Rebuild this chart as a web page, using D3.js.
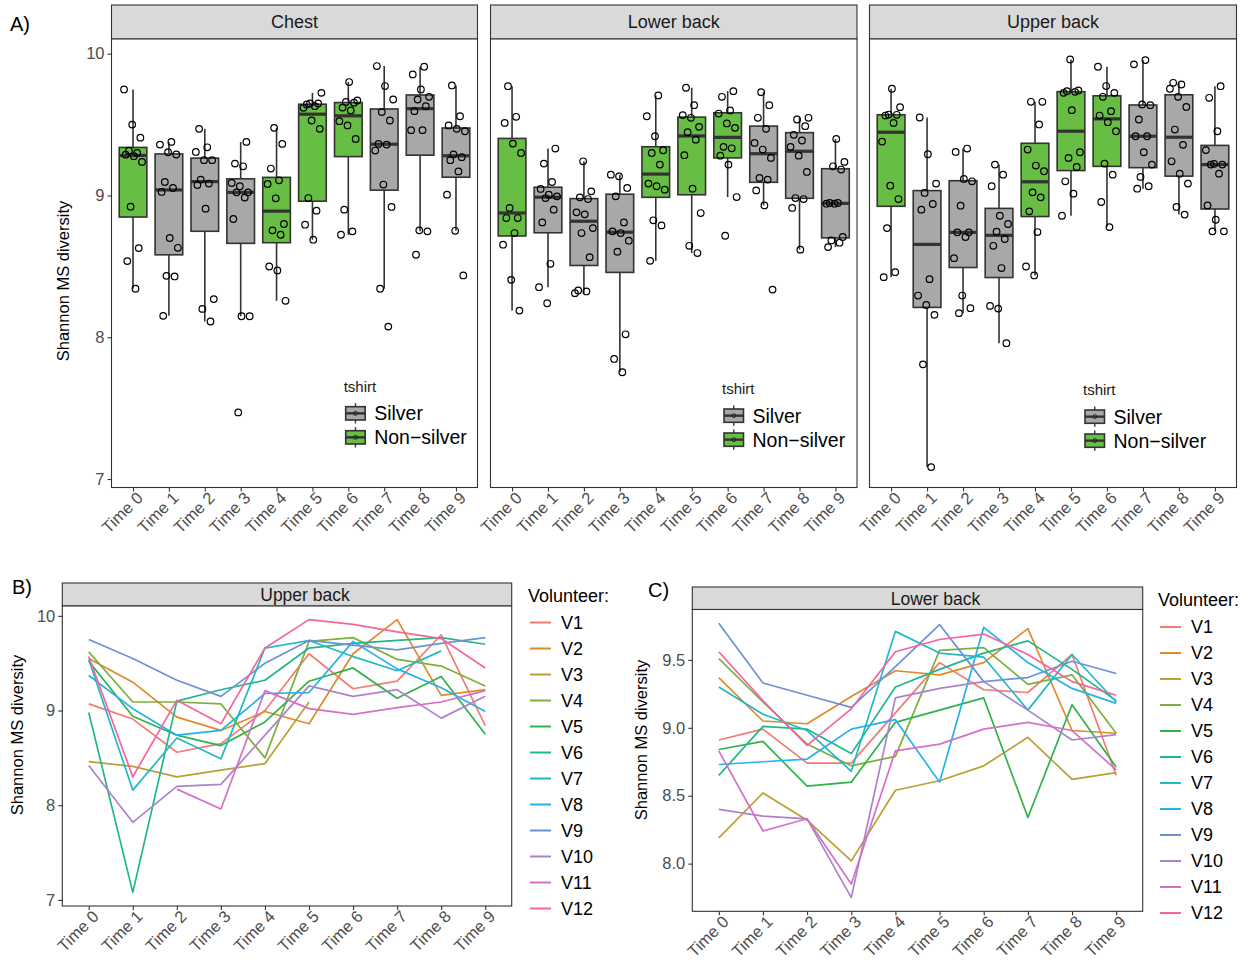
<!DOCTYPE html>
<html><head><meta charset="utf-8">
<script src="https://cdn.jsdelivr.net/npm/d3@7"></script>
<style>body{margin:0;background:#fff} svg{display:block} text{font-family:"Liberation Sans",Arial,Helvetica,sans-serif}</style>
</head><body><svg id="c" width="1252" height="979"></svg>
<script>
// ---------------- DATA ----------------
const times = ["Time 0","Time 1","Time 2","Time 3","Time 4","Time 5","Time 6","Time 7","Time 8","Time 9"];
const tshirt = ["Non-silver","Silver","Silver","Silver","Non-silver","Non-silver","Non-silver","Silver","Silver","Silver"];
const tshirtLevels = ["Silver","Non-silver"];
const tshirtLabels = ["Silver","Non\u2212silver"];
const sites = ["Chest","Lower back","Upper back"];

// Panel A: Shannon diversity of the 12 samples per time point
const chestValues = [
  [9.748,9.500,9.408,9.316,9.300,9.288,9.277,9.237,8.921,8.629,8.537,8.342],
  [9.378,9.359,9.305,9.289,9.095,9.053,9.025,8.700,8.631,8.433,8.429,8.151],
  [9.470,9.340,9.307,9.249,9.249,9.112,9.084,9.074,8.907,8.269,8.200,8.111],
  [9.378,9.225,9.206,9.088,9.065,9.022,9.022,8.985,8.834,8.148,8.148,7.470],
  [9.477,9.364,9.190,9.107,9.081,8.980,8.799,8.754,8.723,8.499,8.471,8.257],
  [9.724,9.649,9.649,9.642,9.630,9.618,9.529,9.470,8.982,8.893,8.794,8.688],
  [9.800,9.670,9.660,9.654,9.620,9.600,9.524,9.494,9.399,8.900,8.747,8.723],
  [9.913,9.772,9.677,9.588,9.529,9.364,9.359,9.317,9.077,8.919,8.342,8.075],
  [9.908,9.854,9.748,9.696,9.677,9.630,9.595,9.461,9.461,8.754,8.747,8.582],
  [9.776,9.559,9.494,9.470,9.453,9.290,9.270,9.249,9.170,9.006,8.751,8.436]
];
const lowerBackValues = [
  [9.771,9.555,9.512,9.366,9.300,8.912,8.841,8.841,8.735,8.653,8.405,8.188],
  [9.331,9.225,9.095,9.046,9.006,8.994,8.982,8.900,8.810,8.518,8.353,8.240],
  [9.241,9.029,8.987,8.975,8.881,8.867,8.770,8.735,8.565,8.330,8.323,8.311],
  [9.147,9.135,9.053,8.994,8.810,8.747,8.735,8.681,8.603,8.021,7.847,7.753],
  [9.706,9.559,9.418,9.319,9.300,9.218,9.084,9.065,9.041,8.825,8.789,8.539],
  [9.760,9.637,9.567,9.548,9.484,9.446,9.394,9.284,9.048,8.876,8.645,8.594],
  [9.736,9.696,9.600,9.578,9.508,9.477,9.343,9.333,9.281,9.218,8.989,8.716],
  [9.729,9.637,9.548,9.470,9.371,9.324,9.265,9.124,9.112,9.036,8.930,8.336],
  [9.548,9.536,9.489,9.428,9.388,9.343,9.281,9.166,8.982,8.975,8.912,8.618],
  [9.399,9.237,9.206,9.183,8.947,8.947,8.942,8.942,8.707,8.683,8.667,8.636]
];
const upperBackValues = [
  [9.753,9.623,9.571,9.569,9.564,9.512,9.380,9.069,8.975,8.770,8.459,8.424],
  [9.550,9.291,9.084,9.018,8.940,8.900,8.410,8.294,8.228,8.158,7.809,7.084],
  [9.331,9.307,9.117,9.100,8.928,8.740,8.740,8.707,8.558,8.294,8.205,8.170],
  [9.218,9.147,9.065,8.857,8.799,8.745,8.693,8.645,8.488,8.221,8.202,7.958],
  [9.661,9.661,9.501,9.324,9.211,9.171,9.022,8.987,8.888,8.742,8.499,8.436],
  [9.960,9.741,9.736,9.731,9.724,9.602,9.305,9.265,9.201,9.100,9.013,8.857],
  [9.908,9.772,9.724,9.696,9.595,9.564,9.517,9.453,9.225,9.147,8.954,8.777],
  [9.955,9.925,9.642,9.637,9.536,9.418,9.418,9.305,9.218,9.131,9.065,9.048],
  [9.795,9.783,9.753,9.696,9.625,9.465,9.357,9.241,9.154,9.084,8.919,8.865],
  [9.771,9.689,9.453,9.320,9.223,9.218,9.218,9.154,8.930,8.829,8.747,8.747]
];

// Panels B and C: per-volunteer trajectories (null = missing sample)
const volunteers = ["V1","V2","V3","V4","V5","V6","V7","V8","V9","V10","V11","V12"];
const upperBackSeries = [
  [9.07,8.91,8.56,8.65,9.00,9.60,9.23,9.31,9.80,8.84],
  [9.55,9.30,8.93,8.79,8.99,8.86,9.60,9.96,9.16,9.22],
  [8.46,8.41,8.30,8.37,8.44,9.09,null,null,null,null],
  [9.62,9.09,9.09,9.07,8.50,9.73,9.77,9.54,9.47,9.26],
  [9.52,8.94,8.74,8.63,8.88,9.31,9.45,9.13,9.36,8.75],
  [8.98,7.08,9.10,9.22,9.32,9.66,9.71,9.74,9.77,9.70],
  [9.54,8.16,8.71,8.49,9.66,9.74,9.57,9.42,9.63,null],
  [9.37,9.02,8.74,8.79,9.18,9.19,9.73,9.44,9.24,8.99],
  [9.75,9.55,9.32,9.15,9.50,9.74,9.69,9.64,9.71,9.77],
  [8.42,7.82,8.20,8.22,8.74,9.26,9.15,9.22,8.92,9.15],
  [null,null,8.17,7.96,9.21,9.02,8.96,9.03,9.09,9.21],
  [9.57,8.30,9.11,8.86,9.66,9.96,9.91,9.83,9.76,9.45]
];
const lowerBackSeries = [
  [8.91,8.99,8.74,8.74,9.11,9.48,9.28,9.26,9.54,8.65],
  [9.37,9.05,9.03,9.23,9.42,9.39,9.48,9.73,8.98,8.96],
  [8.19,8.52,8.32,8.02,8.54,8.61,8.72,8.93,8.62,8.67],
  [9.51,9.19,8.88,8.72,8.79,9.57,9.59,9.32,9.39,8.96],
  [8.84,8.90,8.57,8.60,9.04,9.13,9.22,8.34,9.17,8.71],
  [8.65,9.01,8.99,8.81,9.30,9.43,9.55,9.64,9.43,9.20],
  [9.30,9.10,8.98,8.68,9.71,9.55,9.52,9.13,9.54,9.19],
  [8.73,8.75,8.77,8.99,9.06,8.60,9.74,9.48,9.29,9.18],
  [9.77,9.33,9.24,9.15,9.45,9.76,9.34,9.37,9.49,9.40],
  [8.40,8.35,8.33,7.75,9.22,9.29,9.34,9.13,8.91,8.95],
  [8.83,8.24,8.33,7.85,8.83,8.88,8.99,9.04,8.98,8.69],
  [9.56,9.20,8.87,9.14,9.56,9.65,9.69,9.54,9.34,9.24]
];

const yTicksA = [7,8,9,10];
const yTicksB = [7,8,9,10];
const yTicksC = [8.0,8.5,9.0,9.5];

// ---------------- STYLE ----------------
const tshirtColor = d3.scaleOrdinal().domain(tshirtLevels).range(["#A8A8A8","#68BD45"]);
const volColor = d3.scaleOrdinal().domain(volunteers).range(
  ["#F37B72","#E08A2C","#B9A034","#7DAF3C","#2FB249","#20B78A","#22B9C2","#25B2EA","#6B92D8","#AD82CD","#D66FC8","#F4659F"]);
const DARK = "#333333", TICKTXT = "#4D4D4D";

const svg = d3.select("#c");
svg.append("rect").attr("width",1252).attr("height",979).attr("fill","#fff");

function expand(vals){ const e=d3.extent(vals.filter(v=>v!=null)); const p=(e[1]-e[0])*0.05; return [e[0]-p,e[1]+p]; }

function styleAxis(g, fs){
  g.select(".domain").remove();
  g.selectAll(".tick line").attr("stroke",DARK).attr("stroke-width",1.1);
  g.selectAll(".tick text").attr("fill",TICKTXT).style("font-size",fs+"px");
}
function rotateX(g, fs){
  g.selectAll(".tick text")
    .attr("text-anchor","end").attr("x",0).attr("y",0).attr("dy","0.72em")
    .attr("transform","translate(2,3) rotate(-45)")
    .style("font-size",fs+"px");
}

// ---------------- PANEL A ----------------
svg.append("text").attr("x",10).attr("y",31).style("font-size","20px").text("A)");
const panelsA = [
  {site:"Chest", vals:chestValues, x0:111.5, x1:477.5, lx:345.7, ly:391.7},
  {site:"Lower back", vals:lowerBackValues, x0:490.5, x1:857, lx:724, ly:394},
  {site:"Upper back", vals:upperBackValues, x0:869.5, x1:1236.5, lx:1085, ly:395}
];
const topA = 39, botA = 487.5, stripTopA = 5;
const yA = d3.scaleLinear().domain(expand(panelsA.flatMap(p=>p.vals.flat()))).range([botA, topA]);

panelsA.forEach((p, pi) => {
  const g = svg.append("g");
  const x = d3.scalePoint().domain(times).range([p.x0, p.x1]).padding(0.6);
  const step = x.step(), bw = step*0.77;
  // strip
  g.append("rect").attr("x",p.x0).attr("y",stripTopA).attr("width",p.x1-p.x0).attr("height",topA-stripTopA)
    .attr("fill","#D9D9D9").attr("stroke",DARK).attr("stroke-width",1.1);
  g.append("text").attr("x",(p.x0+p.x1)/2).attr("y",(stripTopA+topA)/2).attr("dy","0.35em")
    .attr("text-anchor","middle").style("font-size","18px").attr("fill","#1A1A1A").text(p.site);
  g.append("rect").attr("x",p.x0).attr("y",topA).attr("width",p.x1-p.x0).attr("height",botA-topA)
    .attr("fill","#fff").attr("stroke",DARK).attr("stroke-width",1.1);

  // boxes computed from data
  p.vals.forEach((arr, i) => {
    const s = arr.slice().sort(d3.ascending);
    const q1 = d3.quantile(s,0.25), med = d3.quantile(s,0.5), q3 = d3.quantile(s,0.75);
    const iqr = q3-q1;
    const lo = d3.min(s.filter(v=>v>=q1-1.5*iqr)), hi = d3.max(s.filter(v=>v<=q3+1.5*iqr));
    const cx = x(times[i]);
    const bg = g.append("g");
    bg.append("line").attr("x1",cx).attr("x2",cx).attr("y1",yA(hi)).attr("y2",yA(q3)).attr("stroke",DARK).attr("stroke-width",1.6);
    bg.append("line").attr("x1",cx).attr("x2",cx).attr("y1",yA(q1)).attr("y2",yA(lo)).attr("stroke",DARK).attr("stroke-width",1.6);
    bg.append("rect").attr("x",cx-bw/2).attr("y",yA(q3)).attr("width",bw).attr("height",yA(q1)-yA(q3))
      .attr("fill",tshirtColor(tshirt[i])).attr("stroke",DARK).attr("stroke-width",1.6);
    bg.append("line").attr("x1",cx-bw/2).attr("x2",cx+bw/2).attr("y1",yA(med)).attr("y2",yA(med)).attr("stroke",DARK).attr("stroke-width",3.2);
  });
  // jittered points
  p.vals.forEach((arr, i) => {
    const cx = x(times[i]);
    arr.forEach((v, j) => {
      const off = (((j*5 + i*7 + pi*3) % 12)/11 - 0.5) * 0.5 * step;
      g.append("circle").attr("cx",cx+off).attr("cy",yA(v)).attr("r",3.3)
        .attr("fill","none").attr("stroke","#000").attr("stroke-width",1.2);
    });
  });
  // x axis
  const gx = g.append("g").attr("transform",`translate(0,${botA})`).call(d3.axisBottom(x).tickSize(4).tickPadding(2));
  styleAxis(gx, 16.5); rotateX(gx, 16.5);
  // legend
  const lg = g.append("g");
  lg.append("text").attr("x",p.lx-2).attr("y",p.ly).style("font-size","15px").attr("fill","#1A1A1A").text("tshirt");
  tshirtLevels.forEach((lev, k) => {
    const ky = p.ly + 15 + k*24, kw = 19.5, kh = 13.3, kx = p.lx;
    lg.append("line").attr("x1",kx+kw/2).attr("x2",kx+kw/2).attr("y1",ky-3.5).attr("y2",ky+kh+3.5).attr("stroke",DARK).attr("stroke-width",1.4);
    lg.append("rect").attr("x",kx).attr("y",ky).attr("width",kw).attr("height",kh)
      .attr("fill",tshirtColor(lev)).attr("stroke",DARK).attr("stroke-width",1.6);
    lg.append("line").attr("x1",kx).attr("x2",kx+kw).attr("y1",ky+kh/2).attr("y2",ky+kh/2).attr("stroke",DARK).attr("stroke-width",2.4);
    lg.append("circle").attr("cx",kx+kw/2).attr("cy",ky+kh/2).attr("r",2).attr("fill","none").attr("stroke","#222").attr("stroke-width",0.9);
    lg.append("text").attr("x",kx+28.5).attr("y",ky+kh/2).attr("dy","0.36em").style("font-size","19.5px").attr("fill","#000").text(tshirtLabels[k]);
  });
  if (pi === 0) {
    const gy = g.append("g").attr("transform",`translate(${p.x0},0)`).call(d3.axisLeft(yA).tickValues(yTicksA).tickFormat(d3.format("d")).tickSize(4).tickPadding(3));
    styleAxis(gy, 16.5);
    g.append("text").attr("transform",`translate(69,281) rotate(-90)`).attr("text-anchor","middle")
      .style("font-size","16.5px").attr("fill","#000").text("Shannon MS diversity");
  }
});

// ---------------- PANELS B & C ----------------
function linePanel(cfg){
  const g = svg.append("g");
  const x = d3.scalePoint().domain(times).range([cfg.x0, cfg.x1]).padding(0.6);
  const y = d3.scaleLinear().domain(expand(cfg.series.flat())).range([cfg.bot, cfg.top]);
  g.append("text").attr("x",cfg.tagX).attr("y",cfg.tagY).style("font-size","20px").text(cfg.tag);
  g.append("rect").attr("x",cfg.x0).attr("y",cfg.stripTop).attr("width",cfg.x1-cfg.x0).attr("height",cfg.top-cfg.stripTop)
    .attr("fill","#D9D9D9").attr("stroke",DARK).attr("stroke-width",1.1);
  g.append("text").attr("x",(cfg.x0+cfg.x1)/2 + 18).attr("y",(cfg.stripTop+cfg.top)/2).attr("dy","0.36em")
    .attr("text-anchor","middle").style("font-size","17.5px").attr("fill","#1A1A1A").text(cfg.site);
  g.append("rect").attr("x",cfg.x0).attr("y",cfg.top).attr("width",cfg.x1-cfg.x0).attr("height",cfg.bot-cfg.top)
    .attr("fill","#fff").attr("stroke",DARK).attr("stroke-width",1.1);
  const line = d3.line().defined(d=>d.v!=null).x(d=>x(d.t)).y(d=>y(d.v));
  cfg.series.forEach((ser, k) => {
    g.append("path").datum(ser.map((v,i)=>({t:times[i], v})))
      .attr("d",line).attr("fill","none").attr("stroke",volColor(volunteers[k])).attr("stroke-width",1.7)
      .attr("stroke-linejoin","round");
  });
  const gx = g.append("g").attr("transform",`translate(0,${cfg.bot})`).call(d3.axisBottom(x).tickSize(4).tickPadding(2));
  styleAxis(gx, 16.5); rotateX(gx, 16.5);
  const gy = g.append("g").attr("transform",`translate(${cfg.x0},0)`).call(d3.axisLeft(y).tickValues(cfg.ticks).tickFormat(cfg.fmt).tickSize(4).tickPadding(3));
  styleAxis(gy, 16.5);
  g.append("text").attr("transform",`translate(${cfg.ylabX},${cfg.ylabY}) rotate(-90)`).attr("text-anchor","middle")
    .style("font-size","16.5px").attr("fill","#000").text("Shannon MS diversity");
  // legend
  const lg = g.append("g");
  lg.append("text").attr("x",cfg.legX).attr("y",cfg.legY).style("font-size","18px").attr("fill","#000").text("Volunteer:");
  volunteers.forEach((v, k) => {
    const ly = cfg.legY + 21 + k*26;
    lg.append("line").attr("x1",cfg.legX+2).attr("x2",cfg.legX+23).attr("y1",ly).attr("y2",ly)
      .attr("stroke",volColor(v)).attr("stroke-width",2);
    lg.append("text").attr("x",cfg.legX+33).attr("y",ly).attr("dy","0.36em").style("font-size","18px").attr("fill","#000").text(v);
  });
}
linePanel({tag:"B)", tagX:12, tagY:594, site:"Upper back", series:upperBackSeries, x0:62.3, x1:511.7, stripTop:583, top:606, bot:906,
  ticks:yTicksB, fmt:d3.format("d"), ylabX:23, ylabY:735, legX:528, legY:601.5});
linePanel({tag:"C)", tagX:648, tagY:597, site:"Lower back", series:lowerBackSeries, x0:692.3, x1:1142.7, stripTop:587, top:609.5, bot:911.3,
  ticks:yTicksC, fmt:d3.format(".1f"), ylabX:647, ylabY:740, legX:1158, legY:606});
</script></body></html>
